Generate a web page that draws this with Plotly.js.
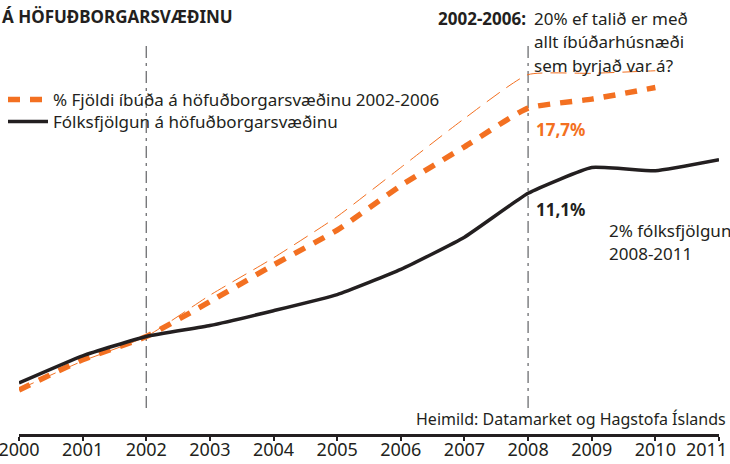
<!DOCTYPE html>
<html>
<head>
<meta charset="utf-8">
<script src="https://cdn.plot.ly/plotly-3.0.1.min.js"></script>
<style>
  html, body { margin: 0; padding: 0; background: #ffffff; }
  #chart { width: 730px; height: 464px; }
</style>
</head>
<body>
<div id="chart"></div>
<script>
// ---- data (percent change relative to 2002) ----
var years = [2000, 2001, 2002, 2003, 2004, 2005, 2006, 2007, 2008, 2009, 2010, 2011];
var tickLabels = ['2000', '2001', '2002', '2003', '2004', '2005', '2006', '2007', '2008', '2009', '2010', '2011'];
var populationGrowth = [-3.6, -1.5, 0, 0.85, 2.0, 3.25, 5.2, 7.7, 11.1, 13.1, 12.85, 13.7];
var dwellings = [-4.15, -1.8, 0, 2.7, 5.55, 8.25, 11.7, 14.7, 17.7, 18.4, 19.3, null];
var allDwellingsStarted = [-4.1, -1.9, 0, 3.2, 6.1, 9.3, 13.1, 16.9, 20.3, 20.4, 20.6, null];
var referenceYears = [2002, 2008];
var seriesNames = ['% Fjöldi íbúða á höfuðborgarsvæðinu 2002-2006', 'Fólksfjölgun á höfuðborgarsvæðinu'];
var questionLines = ['20% ef talið er með', 'allt íbúðarhúsnæði', 'sem byrjað var á?'];

// ---- layout helpers ----
var W = 730, H = 464;
var M = { l: 19, r: 11, t: 10, b: 30, autoexpand: false };
var PW = W - M.l - M.r, PH = H - M.t - M.b;
function px(x) { return (x - M.l) / PW; }
function py(y) { return (H - M.b - y) / PH; }

var ORANGE = '#f37021';
var DARK = '#231f20';
var FONT = 'Noto Sans, Open Sans, sans-serif';

function fmt(v) { return v.toFixed(1).replace('.', ',') + '%'; }
var i2008 = years.indexOf(2008);
var last = tickLabels.length - 1;
// last label is right-aligned at the page edge so that it stays fully visible
var axisText = tickLabels.map(function (t, i) { return i === last ? '' : t; });

var traces = [
  {
    x: years, y: allDwellingsStarted, type: 'scatter', mode: 'lines',
    line: { color: ORANGE, width: 1, dash: '16px,8px', shape: 'spline', smoothing: 0.5 },
    showlegend: false, hoverinfo: 'skip', connectgaps: false
  },
  {
    x: years, y: dwellings, type: 'scatter', mode: 'lines', name: seriesNames[0], legend: 'legend',
    line: { color: ORANGE, width: 5.5, dash: '12px,10px', shape: 'spline', smoothing: 0.5 }
  },
  {
    x: years, y: populationGrowth, type: 'scatter', mode: 'lines', name: seriesNames[1], legend: 'legend2',
    line: { color: DARK, width: 3.5, shape: 'spline', smoothing: 0.4 }
  }
];

var shapes = referenceYears.map(function (yr) {
  return {
    type: 'line', xref: 'x', yref: 'paper', x0: yr, x1: yr,
    y0: py(408), y1: py(42),
    line: { color: '#6d6e71', width: 1.3, dash: '12px,5px,3px,5px' },
    layer: 'below'
  };
});

var annotations = [
  { text: '<b>Á HÖFUÐBORGARSVÆÐINU</b>', x: px(0), y: py(17), xanchor: 'left', yanchor: 'middle',
    font: { size: 17, color: DARK } },
  { text: '<b>2002-2006:</b>', x: px(528), y: py(18), xanchor: 'right', yanchor: 'middle',
    font: { size: 17, color: DARK } },
  { text: questionLines[0], x: px(532), y: py(18), xanchor: 'left', yanchor: 'middle', font: { size: 17, color: DARK } },
  { text: questionLines[1], x: px(532), y: py(42), xanchor: 'left', yanchor: 'middle', font: { size: 17, color: DARK } },
  { text: questionLines[2], x: px(532), y: py(65), xanchor: 'left', yanchor: 'middle', font: { size: 17, color: DARK } },
  { text: '<b>' + fmt(dwellings[i2008]) + '</b>', x: px(534), y: py(129), xanchor: 'left', yanchor: 'middle',
    font: { size: 17, color: ORANGE } },
  { text: '<b>' + fmt(populationGrowth[i2008]) + '</b>', x: px(534), y: py(209), xanchor: 'left', yanchor: 'middle',
    font: { size: 17, color: DARK } },
  { text: '2% fólksfjölgun', x: px(607), y: py(230), xanchor: 'left', yanchor: 'middle', font: { size: 17, color: DARK } },
  { text: '2008-2011', x: px(607), y: py(253), xanchor: 'left', yanchor: 'middle', font: { size: 17, color: DARK } },
  { text: 'Heimild: Datamarket og Hagstofa Íslands', x: px(728), y: py(419), xanchor: 'right', yanchor: 'middle',
    font: { size: 16, color: DARK } },
  { text: tickLabels[last], x: px(729), y: py(449), xanchor: 'right', yanchor: 'middle',
    font: { size: 18, color: DARK } }
].map(function (a) {
  a.xref = 'paper'; a.yref = 'paper'; a.showarrow = false; return a;
});

function legendAt(cy) {
  return {
    x: px(3), y: py(cy), xanchor: 'left', yanchor: 'middle',
    bgcolor: 'rgba(0,0,0,0)', borderwidth: 0,
    font: { size: 17, color: DARK }, itemwidth: 40
  };
}

var layout = {
  width: W, height: H,
  margin: M,
  paper_bgcolor: '#ffffff', plot_bgcolor: '#ffffff',
  font: { family: FONT, color: DARK, size: 17 },
  showlegend: true,
  legend: legendAt(100),
  legend2: legendAt(122),
  xaxis: {
    range: [2000, 2011], tickvals: years, ticktext: axisText,
    showgrid: false, zeroline: false, showline: true, linecolor: DARK, linewidth: 2.5,
    ticks: 'outside', ticklen: 4, tickwidth: 2, tickcolor: DARK,
    ticklabeloverflow: 'allow', ticklabelstandoff: -6,
    tickfont: { size: 18, color: DARK }, fixedrange: true, automargin: false
  },
  yaxis: {
    range: [-(H - M.b - 336.5) / 12.9, (336.5 - M.t) / 12.9],
    visible: false, showgrid: false, zeroline: false, fixedrange: true
  },
  shapes: shapes,
  annotations: annotations
};

Plotly.newPlot('chart', traces, layout, { displayModeBar: false, staticPlot: true });
</script>
</body>
</html>
